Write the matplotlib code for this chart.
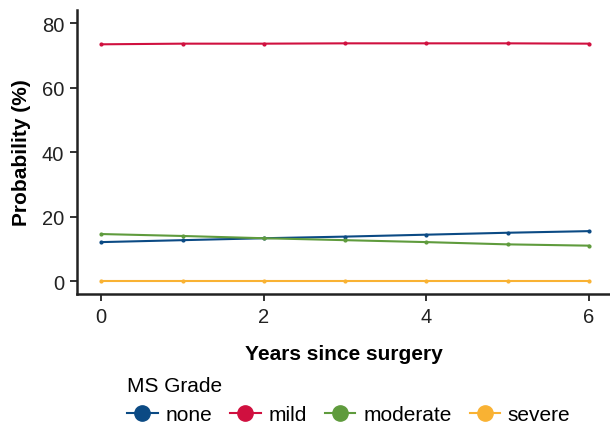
import numpy as np
import matplotlib.pyplot as plt
from matplotlib.lines import Line2D

plt.rcParams['font.family'] = ['Liberation Sans', 'DejaVu Sans']

years = [0, 1, 2, 3, 4, 5, 6]
grades = ['none', 'mild', 'moderate', 'severe']
none_vals = [12.1, 12.7, 13.3, 13.8, 14.4, 15.0, 15.5]
mild_vals = [73.4, 73.6, 73.6, 73.7, 73.7, 73.7, 73.6]
moderate_vals = [14.6, 14.0, 13.3, 12.7, 12.1, 11.4, 11.0]
severe_vals = [0.1, 0.1, 0.1, 0.1, 0.1, 0.1, 0.1]
colors = ['#0b4a84', '#d0103f', '#5f9b3d', '#f9b233']

fig = plt.figure(figsize=(6.1, 4.27), dpi=100)
ax = fig.add_axes([0.126, 0.309, 0.874, 0.665])

series = [none_vals, mild_vals, moderate_vals, severe_vals]
for vals, c in zip(series, colors):
    ax.plot(years, vals, color=c, lw=1.5, marker='o', ms=2.0)

ax.set_xlim(-0.3, 6.26)
ax.set_ylim(-4, 84)
ax.set_xticks([0, 2, 4, 6])
ax.set_yticks([0, 20, 40, 60, 80])
ax.spines['top'].set_visible(False)
ax.spines['right'].set_visible(False)
for s in ['left', 'bottom']:
    ax.spines[s].set_linewidth(1.8)
    ax.spines[s].set_color('#222222')
ax.tick_params(length=5, width=1.3, labelsize=14.5, colors='#222222', pad=4)
ax.set_xlabel('Years since surgery', fontsize=15, fontweight='bold', labelpad=13)
ax.set_ylabel('Probability (%)', fontsize=15, fontweight='bold', labelpad=8)

handles = [Line2D([0], [0], color=c, lw=1.5, marker='o', ms=11) for c in colors]
leg = fig.legend(handles, grades, ncol=4, loc='lower left', bbox_to_anchor=(0.178, -0.04),
                 title='MS Grade', fontsize=15, title_fontsize=15, frameon=False,
                 handlelength=1.45, handletextpad=0.38, columnspacing=0.87)
leg._legend_box.align = 'left'

fig.savefig('out.png', dpi=100)
